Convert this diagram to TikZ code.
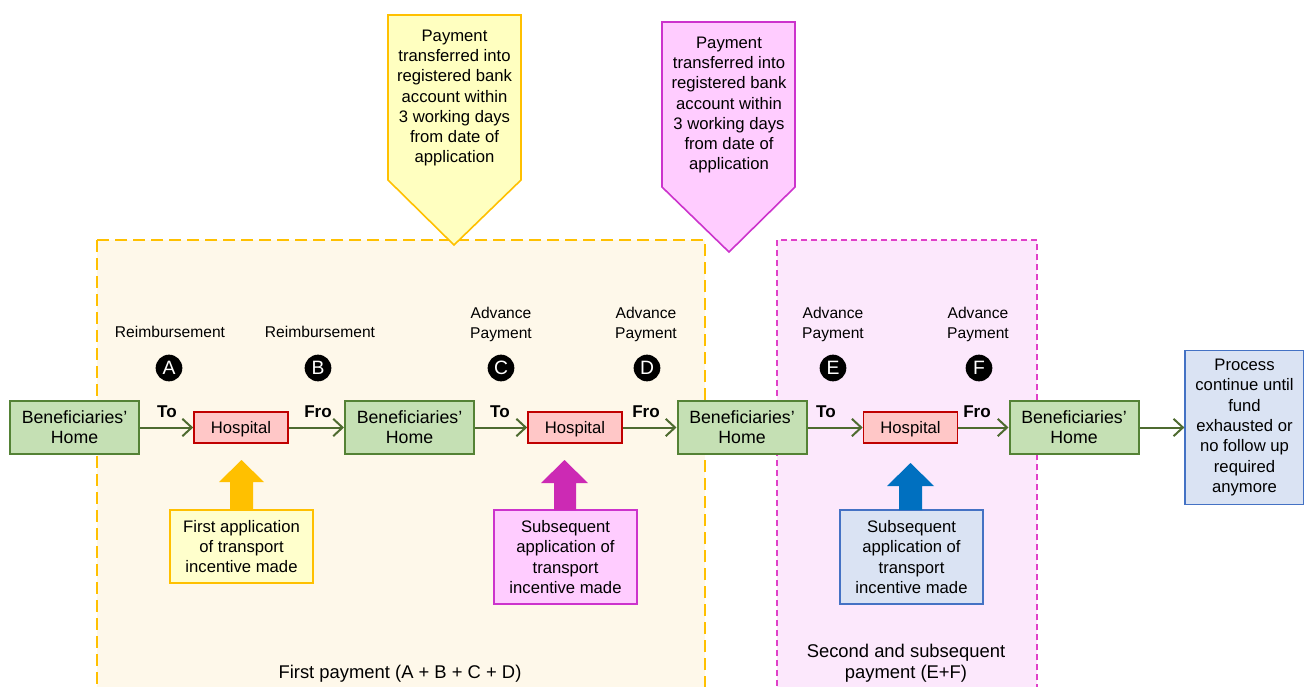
\documentclass[tikz,border=0pt]{standalone}
\usepackage{fontspec}
\setmainfont{Liberation Sans}
\usetikzlibrary{arrows.meta}
\definecolor{regY}{HTML}{FEF8EA}
\definecolor{regYline}{HTML}{FFC000}
\definecolor{regP}{HTML}{FCE8FC}
\definecolor{regPline}{HTML}{E040C8}
\definecolor{callYfill}{HTML}{FFFFC0}
\definecolor{callPfill}{HTML}{FFCCFF}
\definecolor{callPline}{HTML}{CC33CC}
\definecolor{homefill}{HTML}{C5E0B4}
\definecolor{homeline}{HTML}{548235}
\definecolor{hospfill}{HTML}{FFC7C7}
\definecolor{hospline}{HTML}{C00000}
\definecolor{flow}{HTML}{4E6B30}
\definecolor{blfill}{HTML}{DAE3F3}
\definecolor{blline}{HTML}{4472C4}
\definecolor{bigY}{HTML}{FFC000}
\definecolor{bigP}{HTML}{CC2AB4}
\definecolor{bigB}{HTML}{0070C0}
\definecolor{appYfill}{HTML}{FFFFCC}
\tikzset{
  txt/.style={font=\fontsize{12.5}{15.2}\selectfont, align=center},
  small/.style={font=\fontsize{11.7}{15}\selectfont, align=center},
  captxt/.style={font=\fontsize{13.8}{15.8}\selectfont, align=center},
  home/.style={font=\fontsize{13.3}{15}\selectfont, align=center, draw=homeline, fill=homefill, line width=1.5pt, minimum width=96.75pt, minimum height=39.75pt, inner sep=0pt},
  hosp/.style={txt, draw=hospline, fill=hospfill, line width=1.2pt, minimum width=70.5pt, minimum height=23.25pt, inner sep=0pt, text height=9pt, text depth=0pt},
  flowarrow/.style={draw=flow, line width=1.5pt, -{Straight Barb[length=7pt,width=13pt,line width=1.5pt]}},
  tofro/.style={font=\fontsize{12.8}{15}\selectfont\bfseries},
  letter/.style={circle, fill=black, text=white, minimum size=20pt, inner sep=0pt, font=\fontsize{14.5}{15}\selectfont},
  appbox/.style={txt, line width=1.2pt, minimum width=107.25pt, inner sep=0pt},
}
\begin{document}
\begin{tikzpicture}[x=0.75pt, y=-0.75pt]
\useasboundingbox (0,0) rectangle (1304,686);
% regions
\begin{scope}
\clip (0,0) rectangle (1304,686);
\draw[regYline, fill=regY, line width=1.5pt, dash pattern=on 9pt off 4.5pt] (97,240) rectangle (705,700);
\draw[regPline, fill=regP, line width=1.3pt, dash pattern=on 4.5pt off 3pt] (777,240) rectangle (1037,700);
\end{scope}
% callouts
\draw[regYline, fill=callYfill, line width=1.2pt] (388,15) -- (521,15) -- (521,180) -- (454,245) -- (388,180) -- cycle;
\node[txt] (cy) at (454.5,98) {Payment\\transferred into\\registered bank\\account within\\3 working  days\\from date of\\application};
\draw[callPline, fill=callPfill, line width=1.2pt] (662,22) -- (795,22) -- (795,187) -- (729,252) -- (662,187) -- cycle;
\node[txt] (cp) at (729,105) {Payment\\transferred into\\registered bank\\account within\\3 working  days\\from date of\\application};
% main flow nodes
\node[home] (h1) at (74.5,427.5) {Beneficiaries’\\Home};
\node[hosp] (p1) at (241,427.5) {Hospital};
\node[home] (h2) at (409.5,427.5) {Beneficiaries’\\Home};
\node[hosp] (p2) at (575,427.5) {Hospital};
\node[home] (h3) at (742,427.5) {Beneficiaries’\\Home};
\node[hosp] (p3) at (910.5,427.5) {Hospital};
\node[home] (h4) at (1074,427.5) {Beneficiaries’\\Home};
\node[txt, draw=blline, fill=blfill, line width=1.2pt, minimum width=89pt, minimum height=115.5pt, inner sep=0pt] (end) at (1244.5,427.5) {Process\\continue until\\fund\\exhausted or\\no follow up\\required\\anymore};
\draw[flowarrow] (h1) -- (p1);
\draw[flowarrow] (p1) -- (h2);
\draw[flowarrow] (h2) -- (p2);
\draw[flowarrow] (p2) -- (h3);
\draw[flowarrow] (h3) -- (p3);
\draw[flowarrow] (p3) -- (h4);
\draw[flowarrow] (h4) -- (end);
% To / Fro
\node[tofro] (t1) at (167,412) {To};
\node[tofro] (f1) at (318,412) {Fro};
\node[tofro] (t2) at (500,412) {To};
\node[tofro] (f2) at (646,412) {Fro};
\node[tofro] (t3) at (826,412) {To};
\node[tofro] (f3) at (977,412) {Fro};
% letters
\node[letter] (la) at (169,368) {A};
\node[letter] (lb) at (318,368) {B};
\node[letter] (lc) at (501,368) {C};
\node[letter] (ld) at (647,368) {D};
\node[letter] (le) at (833,368) {E};
\node[letter] (lf) at (979,368) {F};
% payment type labels
\node[small] (ra) at (170,332) {Reimbursement};
\node[small] (rb) at (320,332) {Reimbursement};
\node[small] (ac) at (501,324) {Advance\\Payment};
\node[small] (ad) at (646,324) {Advance\\Payment};
\node[small] (ae) at (833,324) {Advance\\Payment};
\node[small] (af) at (978,324) {Advance\\Payment};
% application boxes
\node[appbox, draw=regYline, fill=appYfill, minimum height=55pt] (a1) at (241.5,546.5) {First application\\of transport\\incentive made};
\node[appbox, draw=callPline, fill=callPfill, minimum height=70.5pt] (a2) at (565.5,557) {Subsequent\\application of\\transport\\incentive made};
\node[appbox, draw=blline, fill=blfill, minimum height=70.5pt] (a3) at (911.5,557) {Subsequent\\application of\\transport\\incentive made};
% fat up arrows
\fill[bigY] (230,510) -- (230,482) -- (219,482) -- (241.5,460) -- (264,482) -- (253,482) -- (253,510) -- cycle;
\fill[bigP] (554,510) -- (554,483) -- (541,483) -- (564.5,460) -- (588,483) -- (576,483) -- (576,510) -- cycle;
\fill[bigB] (899,510) -- (899,486) -- (887,486) -- (910.5,463) -- (934,486) -- (922,486) -- (922,510) -- cycle;
% region captions
\node[captxt] (cap1) at (400,674) {First payment (A + B + C + D)};
\node[captxt] (cap2) at (906,663) {Second and subsequent\\payment (E+F)};
\end{tikzpicture}
\end{document}
